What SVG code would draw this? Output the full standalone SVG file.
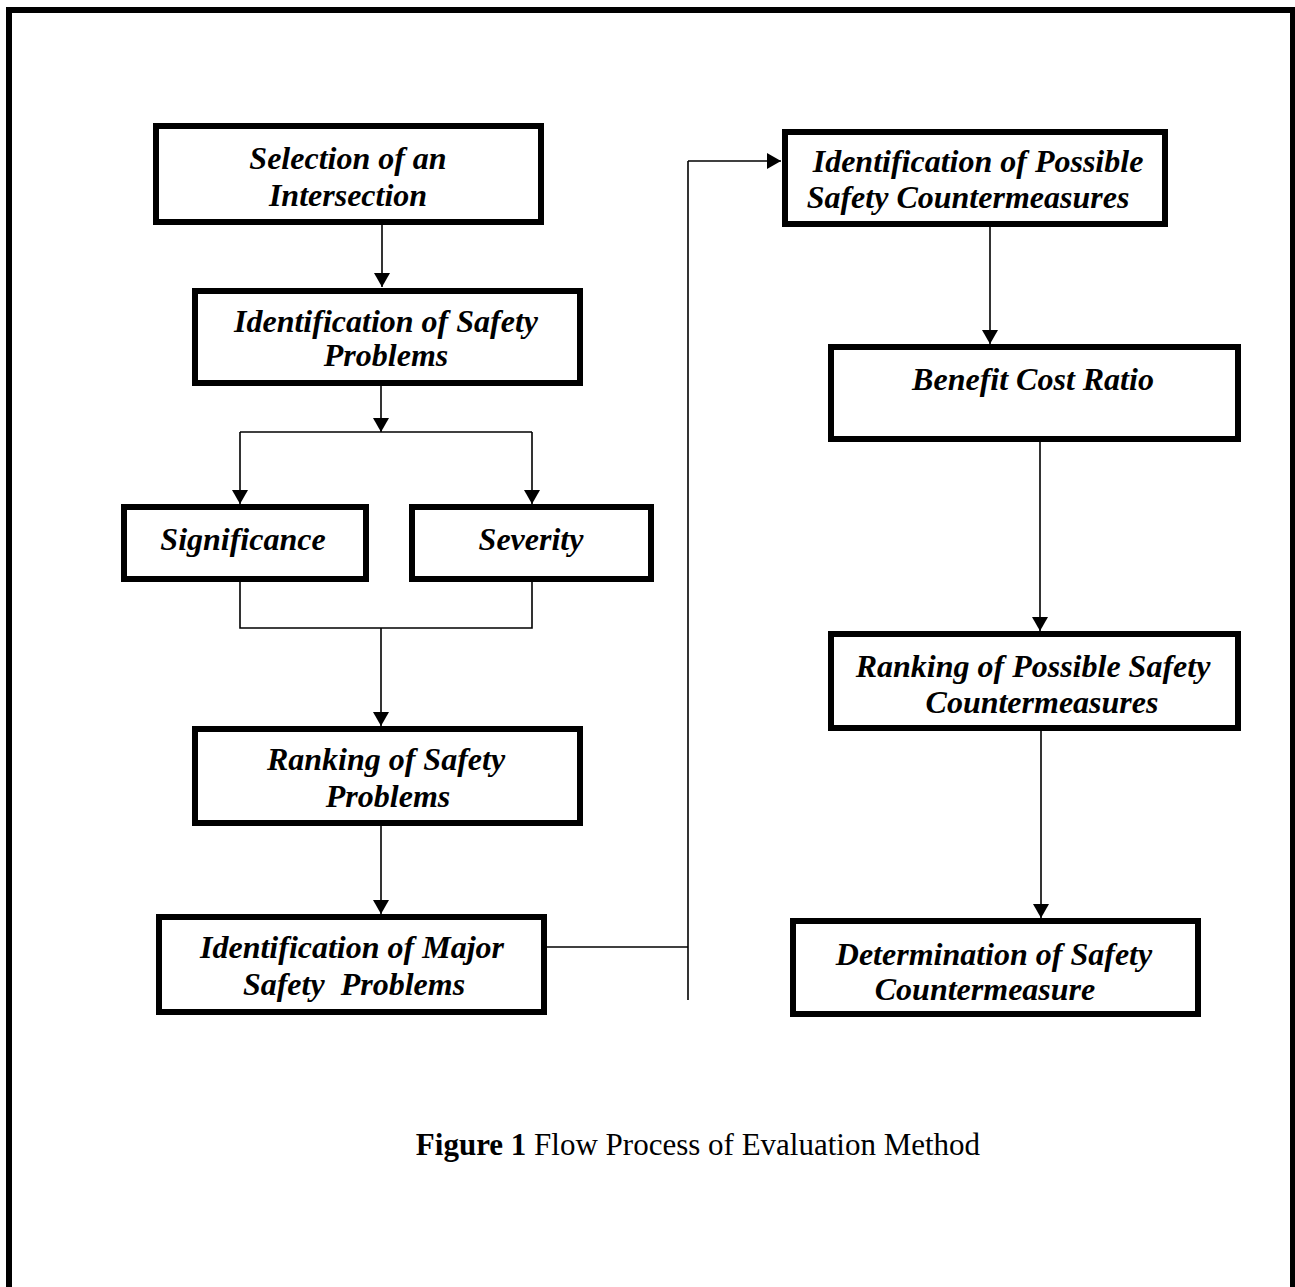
<svg xmlns="http://www.w3.org/2000/svg" width="1295" height="1287" viewBox="0 0 1295 1287">
<style>
.box{fill:#fff;stroke:#000;stroke-width:6}
.lbl{font-family:"Liberation Serif","Times New Roman",serif;font-weight:bold;font-style:italic;font-size:32px;text-anchor:middle;fill:#000}
.ln{fill:none;stroke:#000;stroke-width:1.6}
.cap{font-family:"Liberation Serif","Times New Roman",serif;font-size:31px;text-anchor:middle;fill:#000}
</style>
<defs>
<marker id="ah" viewBox="0 0 14 16" refX="14" refY="8" markerWidth="14" markerHeight="16" markerUnits="userSpaceOnUse" orient="auto">
<path d="M0,0 L14,8 L0,16 Z" fill="#000"/>
</marker>
</defs>
<rect x="0" y="0" width="1295" height="1287" fill="#fff"/>
<rect x="9" y="10" width="1284" height="1300" fill="none" stroke="#000" stroke-width="6"/>
<g id="connectors">
<line class="ln" x1="382" y1="223" x2="382" y2="287" marker-end="url(#ah)"/>
<line class="ln" x1="381" y1="384" x2="381" y2="432" marker-end="url(#ah)"/>
<polyline class="ln" points="240,432 532,432"/>
<line class="ln" x1="240" y1="432" x2="240" y2="504" marker-end="url(#ah)"/>
<line class="ln" x1="532" y1="432" x2="532" y2="504" marker-end="url(#ah)"/>
<polyline class="ln" points="240,580 240,628 532,628 532,580"/>
<line class="ln" x1="381" y1="628" x2="381" y2="726" marker-end="url(#ah)"/>
<line class="ln" x1="381" y1="825" x2="381" y2="914" marker-end="url(#ah)"/>
<polyline class="ln" points="546,947 688,947"/>
<line class="ln" x1="688" y1="1000" x2="688" y2="161"/>
<line class="ln" x1="688" y1="161" x2="781" y2="161" marker-end="url(#ah)"/>
<line class="ln" x1="990" y1="226" x2="990" y2="344" marker-end="url(#ah)"/>
<line class="ln" x1="1040" y1="441" x2="1040" y2="631" marker-end="url(#ah)"/>
<line class="ln" x1="1041" y1="730" x2="1041" y2="918" marker-end="url(#ah)"/>
</g>
<g id="n1"><rect class="box" x="156" y="126" width="385" height="96"/>
<text class="lbl" x="348" y="169">Selection of an</text><text class="lbl" x="348" y="206">Intersection</text></g>
<g id="n2"><rect class="box" x="195" y="291" width="385" height="92"/>
<text class="lbl" x="386" y="332">Identification of Safety</text><text class="lbl" x="386" y="366">Problems</text></g>
<g id="n3"><rect class="box" x="124" y="507" width="242" height="72"/>
<text class="lbl" x="243" y="550">Significance</text></g>
<g id="n4"><rect class="box" x="412" y="507" width="239" height="72"/>
<text class="lbl" x="531" y="550">Severity</text></g>
<g id="n5"><rect class="box" x="195" y="729" width="385" height="94"/>
<text class="lbl" x="386" y="770">Ranking of Safety</text><text class="lbl" x="388" y="807">Problems</text></g>
<g id="n6"><rect class="box" x="159" y="917" width="385" height="95"/>
<text class="lbl" x="352" y="958">Identification of Major</text><text class="lbl" x="354" y="995" xml:space="preserve">Safety  Problems</text></g>
<g id="n7"><rect class="box" x="785" y="132" width="380" height="92"/>
<text class="lbl" x="978" y="172">Identification of Possible</text><text class="lbl" x="968" y="208">Safety Countermeasures</text></g>
<g id="n8"><rect class="box" x="831" y="347" width="407" height="92"/>
<text class="lbl" x="1033" y="390">Benefit Cost Ratio</text></g>
<g id="n9"><rect class="box" x="831" y="634" width="407" height="94"/>
<text class="lbl" x="1033" y="677">Ranking of Possible Safety</text><text class="lbl" x="1042" y="713">Countermeasures</text></g>
<g id="n10"><rect class="box" x="793" y="921" width="405" height="93"/>
<text class="lbl" x="994" y="965">Determination of Safety</text><text class="lbl" x="985" y="1000">Countermeasure</text></g>
<text class="cap" x="698" y="1155"><tspan font-weight="bold">Figure 1</tspan> Flow Process of Evaluation Method</text>
</svg>
